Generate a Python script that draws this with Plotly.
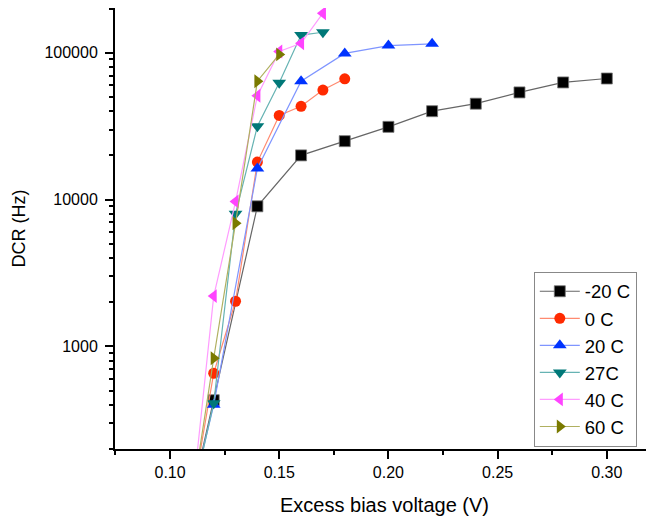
import plotly.graph_objects as go

x_m20 = [0.11, 0.12, 0.14, 0.16, 0.18, 0.20, 0.22, 0.24, 0.26, 0.28, 0.30]
y_m20 = [95, 430, 9000, 20000, 25000, 31300, 40000, 45000, 53700, 62800, 66800]

x_0 = [0.11, 0.12, 0.13, 0.14, 0.15, 0.16, 0.17, 0.18]
y_0 = [90, 656, 2030, 18000, 37400, 43200, 55700, 66500]

x_20 = [0.11, 0.12, 0.14, 0.16, 0.18, 0.20, 0.22]
y_20 = [95, 400, 16300, 64000, 99000, 112000, 115000]

x_27 = [0.11, 0.12, 0.13, 0.14, 0.15, 0.16, 0.17]
y_27 = [90, 410, 8000, 31600, 62500, 132000, 138000]

x_40 = [0.11, 0.12, 0.13, 0.14, 0.15, 0.16, 0.17]
y_40 = [85, 2200, 9700, 51000, 102000, 116000, 186000]

x_60 = [0.11, 0.12, 0.13, 0.14, 0.15]
y_60 = [90, 830, 6900, 64000, 97500]

names = ["-20 C", "0 C", "20 C", "27C", "40 C", "60 C"]
marker_colors = ["#000000", "#FF2A00", "#0033FF", "#007878", "#FF44FF", "#7A7A00"]
line_colors = ["#666666", "#FF8A70", "#7F95FF", "#66B3B3", "#FF9CFF", "#B0B060"]
symbols = ["square", "circle", "triangle-up", "triangle-down", "triangle-left", "triangle-right"]
marker_sizes = [11, 11, 12, 12, 12, 12]

y_tickvals = [1000, 10000, 100000]
y_ticktext = ["1000", "10000", "100000"]
y_minorvals = [200, 300, 400, 500, 600, 700, 800, 900,
               2000, 3000, 4000, 5000, 6000, 7000, 8000, 9000,
               20000, 30000, 40000, 50000, 60000, 70000, 80000, 90000, 200000]
x_tickvals = [0.10, 0.15, 0.20, 0.25, 0.30]
x_ticktext = ["0.10", "0.15", "0.20", "0.25", "0.30"]
x_minorvals = [0.075, 0.125, 0.175, 0.225, 0.275]

series = [(x_m20, y_m20), (x_0, y_0), (x_20, y_20), (x_27, y_27), (x_40, y_40), (x_60, y_60)]

fig = go.Figure()
for (xs, ys), n, mc, lc, s, ms in zip(series, names, marker_colors, line_colors, symbols, marker_sizes):
    fig.add_trace(go.Scatter(
        x=xs, y=ys, name=n, mode="lines+markers",
        line=dict(color=lc, width=1.2),
        marker=dict(symbol=s, size=ms, color=mc,
                    line=dict(width=0.8 if s == "square" else 0, color="#777777")),
        cliponaxis=True,
    ))

font = "Liberation Sans, Arial, sans-serif"
fig.update_layout(
    width=646, height=510,
    margin=dict(l=107, r=0, t=0, b=69),
    paper_bgcolor="white", plot_bgcolor="white",
    font=dict(family=font, size=16, color="black"),
    showlegend=True,
    legend=dict(
        x=0.777, y=0.402, xanchor="left", yanchor="top",
        bordercolor="#888888", borderwidth=1, bgcolor="white",
        font=dict(size=18.5, family=font),
        itemwidth=40,
    ),
    xaxis=dict(
        range=[0.0748, 0.3216],
        tickmode="array", tickvals=x_tickvals, ticktext=x_ticktext,
        ticks="outside", ticklen=8, tickwidth=2, tickcolor="black",
        minor=dict(tickmode="array", tickvals=x_minorvals, ticks="outside",
                   ticklen=4, tickwidth=2, tickcolor="black", showgrid=False),
        showline=True, linewidth=2, linecolor="black",
        showgrid=False, zeroline=False,
        title=dict(text="Excess bias voltage (V)", font=dict(size=20), standoff=18),
        tickfont=dict(size=16),
    ),
    yaxis=dict(
        type="log",
        range=[2.301, 5.305],
        tickmode="array", tickvals=y_tickvals, ticktext=y_ticktext,
        ticks="outside", ticklen=8, tickwidth=2, tickcolor="black",
        minor=dict(tickmode="array", tickvals=y_minorvals, ticks="outside",
                   ticklen=4, tickwidth=1.5, tickcolor="black", showgrid=False),
        showline=True, linewidth=2, linecolor="black",
        showgrid=False, zeroline=False,
        title=dict(text="DCR (Hz)", font=dict(size=18), standoff=14),
        tickfont=dict(size=16),
        ticklabelstandoff=4,
    ),
)

fig.write_html("out.html")
